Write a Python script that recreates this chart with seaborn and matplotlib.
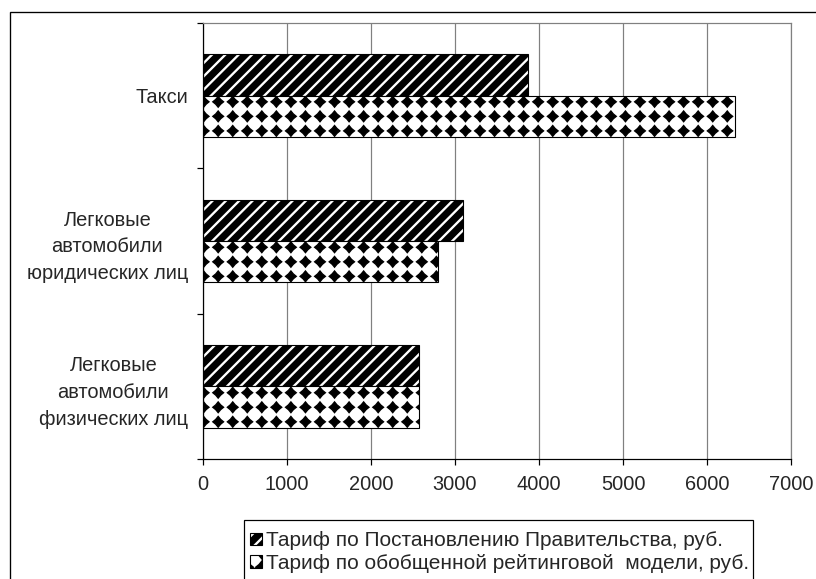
import numpy as np
import pandas as pd
import matplotlib
matplotlib.use("Agg")
import matplotlib.pyplot as plt
import matplotlib.hatch as mhatch
from matplotlib.path import Path
from matplotlib.patches import Rectangle
import seaborn as sns

# ---- data -------------------------------------------------------------
categories = [
    "Такси",
    "Легковые\nавтомобили\nюридических лиц",
    "Легковые\nавтомобили\nфизических лиц",
]
series = [
    "Тариф по Постановлению Правительства, руб.",
    "Тариф по обобщенной рейтинговой  модели, руб.",
]
gov_tariff = [3865, 3092, 2575]
model_tariff = [6337, 2801, 2568]
x_ticks = [0, 1000, 2000, 3000, 4000, 5000, 6000, 7000]

DPI = 160
FONT = 9
W, H = 816, 579


# ---- diamond lattice hatch (replaces the large-circle pattern 'O') -------
class DiamondGrid(mhatch.HatchPatternBase):
    """Filled, slightly rounded diamonds on a square lattice."""
    per_cell = 11
    size = 0.74

    def __init__(self, hatch, density):
        self.num = hatch.count('O') * self.per_cell
        self.num_vertices = (self.num + 1) ** 2 * 9 if self.num else 0

    def set_vertices_and_codes(self, vertices, codes):
        step = 1.0 / self.num
        h = step * self.size / 2
        b = h * 0.45
        shape = np.array([[h, 0], [b, b], [0, h], [-b, b], [-h, 0],
                          [-b, -b], [0, -h], [b, -b], [h, 0]])
        shape_codes = [Path.MOVETO] + [Path.LINETO] * 7 + [Path.CLOSEPOLY]
        pos = np.arange(self.num + 1) * step
        k = 0
        for cy in pos:
            for cx in pos:
                vertices[k:k + 9] = shape + [cx, cy]
                codes[k:k + 9] = shape_codes
                k += 9


mhatch._hatch_types = [DiamondGrid if t is mhatch.LargeCircles else t
                       for t in mhatch._hatch_types]

# ---- style ------------------------------------------------------------
sns.set_style("white")
plt.rcParams["font.family"] = ["Liberation Sans", "DejaVu Sans"]
plt.rcParams["hatch.linewidth"] = 1.05

df = pd.DataFrame({
    "category": categories * 2,
    "series": [series[0]] * len(categories) + [series[1]] * len(categories),
    "value": gov_tariff + model_tariff,
})

fig = plt.figure(figsize=(W / DPI, H / DPI), dpi=DPI)
ax = fig.add_axes([203 / W, 1 - 459 / H, (791 - 203) / W, (459 - 23) / H])

sns.barplot(data=df, x="value", y="category", hue="series",
            order=categories, hue_order=series, orient="h",
            width=0.57, dodge=True, palette=["black", "white"],
            saturation=1, edgecolor="black", linewidth=0.5,
            errorbar=None, legend=False, ax=ax)


def white_hatch(p):
    if hasattr(p, "set_hatchcolor"):
        p.set_hatchcolor("white")
    else:
        p._hatch_color = (1.0, 1.0, 1.0, 1.0)


for p in ax.containers[0]:
    p.set_facecolor("black")
    p.set_hatch("////")
    p.set_edgecolor("black")
    white_hatch(p)
    if hasattr(p, "set_hatch_linewidth"):
        p.set_hatch_linewidth(1.05)

for p in ax.containers[1]:
    p.set_facecolor("white")
    p.set_hatch("O")
    p.set_edgecolor("black")
    if hasattr(p, "set_hatch_linewidth"):
        p.set_hatch_linewidth(0.6)

# ---- axes -------------------------------------------------------------
ax.set_xlim(0, 7000)
ax.set_ylim(2.5, -0.5)
ax.set_xticks(x_ticks)
ax.set_xticklabels([str(v) for v in x_ticks])
ax.set_xlabel("")
ax.set_ylabel("")
ax.xaxis.grid(True, color="#808080", linewidth=0.55)
ax.yaxis.grid(False)
ax.set_axisbelow(True)

for side in ["top", "right"]:
    ax.spines[side].set_visible(True)
    ax.spines[side].set_color("#808080")
    ax.spines[side].set_linewidth(0.55)
for side in ["left", "bottom"]:
    ax.spines[side].set_color("black")
    ax.spines[side].set_linewidth(0.55)

ax.tick_params(axis="x", direction="out", length=2.7, width=0.55,
               color="black", labelsize=FONT, pad=4.5, bottom=True)
ax.set_yticks(range(len(categories)))
ax.set_yticklabels(categories)
ax.set_yticks(np.arange(len(categories) + 1) - 0.5, minor=True)
ax.tick_params(axis="y", which="major", length=0, labelsize=FONT, pad=6.75)
ax.tick_params(axis="y", which="minor", direction="out", length=2.7,
               width=0.55, color="black", left=True)
for lbl in ax.get_yticklabels():
    lbl.set_multialignment("center")
    lbl.set_linespacing(1.52)

# ---- legend (frame drawn separately so padding can differ per side) -----
handles = [ax.containers[0][0], ax.containers[1][0]]
leg = fig.legend(handles, series, loc="upper left",
                 bbox_to_anchor=(239 / W, 1 - 520 / H),
                 fontsize=9.4, frameon=False, borderaxespad=0,
                 borderpad=0.55, handlelength=0.55, handleheight=0.55,
                 handletextpad=0.2, labelspacing=0.15)
for h in leg.legend_handles:
    h.set_edgecolor("black")
for h, src in zip(leg.legend_handles, handles):
    h.set_hatch(src.get_hatch())
    h.set_facecolor(src.get_facecolor())
white_hatch(leg.legend_handles[0])

fig.canvas.draw()
text_right = max(t.get_window_extent().x1 for t in leg.get_texts())
box_left = 244
box_top = H - 520
fig.add_artist(Rectangle((box_left / W, -0.2), (text_right + 4 - box_left) / W,
                         box_top / H + 0.2, transform=fig.transFigure,
                         fill=False, edgecolor="black", linewidth=0.55,
                         clip_on=False))

# ---- outer frame ------------------------------------------------------
fig.add_artist(Rectangle((9.5 / W, -0.2), 1.5, 0.2 + 1 - 11.7 / H,
                         transform=fig.transFigure, fill=False,
                         edgecolor="black", linewidth=0.6, clip_on=False))

fig.savefig("out.png", dpi=DPI)
